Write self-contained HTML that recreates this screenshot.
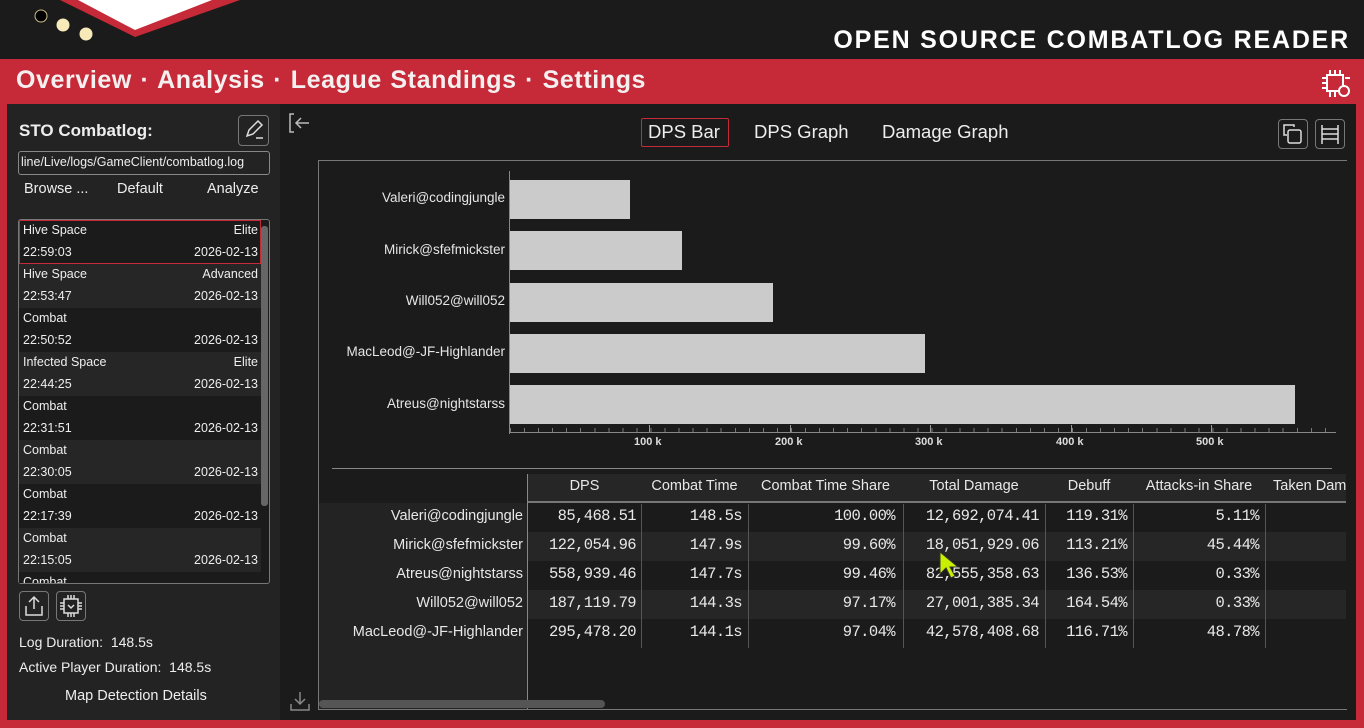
<!DOCTYPE html>
<html><head><meta charset="utf-8"><style>
*{margin:0;padding:0;box-sizing:border-box}
body{width:1364px;height:728px;background:#c62937;font-family:"Liberation Sans",sans-serif;color:#eee;position:relative;overflow:hidden}
.a{position:absolute}
.top{left:0;top:0;width:1364px;height:59px;background:#1b1b1b}
.title{right:14px;top:26px;font-size:25px;font-weight:bold;letter-spacing:1.8px;color:#fff}
.nav{left:16px;top:66px;font-size:25px;font-weight:bold;color:#f4f0f0;letter-spacing:0.6px;word-spacing:1px}
.left{left:7px;top:104px;width:273px;height:616px;background:#232323}
.main{left:280px;top:104px;width:1076px;height:616px;background:#1b1b1b}
.item{position:absolute;left:19px;width:242px;height:44px;font-size:12.5px}
.item span{position:absolute}
.btn{border:1px solid #777;border-radius:4px}
.cell{position:absolute;text-align:right;font-family:"Liberation Mono",monospace;font-size:15.5px;color:#e8e8e8;letter-spacing:-0.6px}
.hd{position:absolute;font-size:14.5px;color:#e8e8e8;text-align:center}
.rl{position:absolute;right:841px;font-size:14.5px;color:#e8e8e8;text-align:right}
.bl{position:absolute;right:859px;font-size:13.5px;color:#e6e6e6}
.bar{position:absolute;left:510px;background:#cbcbcb;height:39px}
.tk{position:absolute;top:436px;font-size:11px;font-weight:bold;color:#ddd}
</style></head><body>
<div class="a top"></div>
<svg class="a" style="left:0;top:0" width="260" height="59">
<polygon points="60,0 240,0 135,37" fill="#c62937"/>
<polygon points="78,0 212,0 135,30" fill="#fff"/>
<circle cx="41" cy="16" r="6" fill="#000" stroke="#cdbb88" stroke-width="1"/>
<circle cx="63" cy="25" r="6.5" fill="#f7e9b8"/>
<circle cx="86" cy="34" r="6.5" fill="#f7e9b8"/>
</svg>
<div class="a title">OPEN SOURCE COMBATLOG READER</div>
<div class="a nav">Overview · Analysis · League Standings · Settings</div>
<svg class="a" style="left:1320px;top:68px" width="32" height="32" fill="none" stroke="#fff" stroke-width="2"><rect x="7" y="7" width="16" height="16"/><path d="M10 2v5M15 2v5M20 2v5M2 10h5M2 15h5M2 20h5M25 10h5M10 23v6M15 23v6"/><circle cx="24" cy="23" r="5" fill="#c62937"/></svg>

<div class="a left"></div>
<div class="a main"></div>

<div class="a" style="left:19px;top:121px;font-size:17px;font-weight:bold">STO Combatlog:</div>
<div class="a btn" style="left:238px;top:115px;width:31px;height:31px"></div>
<svg class="a" style="left:243px;top:119px" width="22" height="22" fill="none" stroke="#ddd" stroke-width="1.5"><path d="M4 17l2-6 9-9 4 4-9 9z M13 19h7"/></svg>
<div class="a" style="left:18px;top:151px;width:252px;height:24px;border:1px solid #888;border-radius:3px;font-size:12.5px;padding:3px 0 0 2px;white-space:nowrap;overflow:hidden">line/Live/logs/GameClient/combatlog.log</div>
<div class="a" style="left:24px;top:181px;font-size:14.5px">Browse ...</div>
<div class="a" style="left:117px;top:181px;font-size:14.5px">Default</div>
<div class="a" style="left:207px;top:181px;font-size:14.5px">Analyze</div>
<div class="a" style="left:18px;top:219px;width:252px;height:365px;border:1px solid #777;border-radius:3px;overflow:hidden;background:#1b1b1b"></div>
<div class="a" style="left:261px;top:226px;width:7px;height:280px;background:#666;border-radius:3px"></div>
<div class="a btn" style="left:19px;top:591px;width:30px;height:30px"></div>
<svg class="a" style="left:24px;top:595px" width="20" height="22" fill="none" stroke="#ddd" stroke-width="1.5"><path d="M10 2v12M5 7l5-5 5 5M2 11v9h16v-9"/></svg>
<div class="a btn" style="left:56px;top:591px;width:30px;height:30px"></div>
<svg class="a" style="left:59px;top:594px" width="24" height="24" fill="none" stroke="#ddd" stroke-width="1.5"><rect x="5" y="5" width="14" height="14"/><path d="M9 1v4M12 1v4M15 1v4M9 19v4M12 19v4M15 19v4M1 9h4M1 12h4M1 15h4M19 9h4M19 12h4M19 15h4M9 11l3 3 3-3"/></svg>
<div class="a" style="left:19px;top:634px;font-size:14px">Log Duration:&nbsp; 148.5s</div>
<div class="a" style="left:19px;top:659px;font-size:14px">Active Player Duration:&nbsp; 148.5s</div>
<div class="a" style="left:65px;top:688px;font-size:14.5px">Map Detection Details</div>

<svg class="a" style="left:288px;top:112px" width="24" height="22" fill="none" stroke="#bbb" stroke-width="1.5"><path d="M6 2H2v18h4M9 11h12M13 6l-5 5 5 5"/></svg>
<svg class="a" style="left:288px;top:690px" width="24" height="22" fill="none" stroke="#888" stroke-width="1.5"><path d="M12 2v12M7 9l5 5 5-5M3 14v6h18v-6"/></svg>
<div class="a" style="left:641px;top:118px;width:88px;height:29px;border:1px solid #c62937;border-radius:2px"></div>
<div class="a" style="left:648px;top:121px;font-size:18.5px">DPS Bar</div>
<div class="a" style="left:754px;top:121px;font-size:18.5px">DPS Graph</div>
<div class="a" style="left:882px;top:121px;font-size:18.5px">Damage Graph</div>
<div class="a btn" style="left:1278px;top:119px;width:30px;height:30px"></div>
<svg class="a" style="left:1282px;top:123px" width="22" height="22" fill="none" stroke="#ddd" stroke-width="1.5"><path d="M12 4V2H2v10h3"/><rect x="6" y="7" width="13" height="13" rx="2"/></svg>
<div class="a btn" style="left:1315px;top:119px;width:30px;height:30px"></div>
<svg class="a" style="left:1319px;top:123px" width="22" height="22" fill="none" stroke="#ddd" stroke-width="1.5"><path d="M3 2v19M19 2v19M3 6h16M3 11h16M3 16h16"/></svg>

<div class="a" style="left:318px;top:160px;width:1029px;height:550px;border:1px solid #777;border-right:none"></div>
<div class="a" style="left:509px;top:171px;width:1px;height:263px;background:#888"></div>
<div class="a" style="left:509px;top:432px;width:827px;height:1px;background:#888"></div>
<div class="a" style="left:510px;top:428px;width:826px;height:4px;background:repeating-linear-gradient(90deg,#777 0 1px,transparent 1px 14.05px)"></div>
<div class="a" style="left:649px;top:425px;width:1px;height:7px;background:#999"></div>
<div class="a" style="left:790px;top:425px;width:1px;height:7px;background:#999"></div>
<div class="a" style="left:930px;top:425px;width:1px;height:7px;background:#999"></div>
<div class="a" style="left:1071px;top:425px;width:1px;height:7px;background:#999"></div>
<div class="a" style="left:1211px;top:425px;width:1px;height:7px;background:#999"></div>
<div class="tk" style="left:634px">100 k</div>
<div class="tk" style="left:775px">200 k</div>
<div class="tk" style="left:915px">300 k</div>
<div class="tk" style="left:1056px">400 k</div>
<div class="tk" style="left:1196px">500 k</div>
<div class="bar" style="top:180px;width:120px"></div>
<div class="bar" style="top:231px;width:172px"></div>
<div class="bar" style="top:283px;width:263px"></div>
<div class="bar" style="top:334px;width:415px"></div>
<div class="bar" style="top:385px;width:785px"></div>
<div class="bl" style="top:190px">Valeri@codingjungle</div>
<div class="bl" style="top:242px">Mirick@sfefmickster</div>
<div class="bl" style="top:293px">Will052@will052</div>
<div class="bl" style="top:344px">MacLeod@-JF-Highlander</div>
<div class="bl" style="top:396px">Atreus@nightstarss</div>

<div class="a" style="left:332px;top:468px;width:1000px;height:1px;background:#888"></div>
<div class="a" style="left:528px;top:474px;width:818px;height:29px;background:#262626;border-bottom:2px solid #777"></div>
<div class="a" style="left:319px;top:503px;width:208px;height:206px;background:#232323"></div>
<div class="a" style="left:527px;top:474px;width:1px;height:235px;background:#888"></div>
<div class="a" style="left:528px;top:532px;width:818px;height:29px;background:#262626"></div>
<div class="a" style="left:528px;top:590px;width:818px;height:29px;background:#262626"></div>
<div class="a" style="left:641px;top:504px;width:1px;height:144px;background:#555"></div>
<div class="a" style="left:748px;top:504px;width:1px;height:144px;background:#555"></div>
<div class="a" style="left:903px;top:504px;width:1px;height:144px;background:#555"></div>
<div class="a" style="left:1045px;top:504px;width:1px;height:144px;background:#555"></div>
<div class="a" style="left:1133px;top:504px;width:1px;height:144px;background:#555"></div>
<div class="a" style="left:1265px;top:504px;width:1px;height:144px;background:#555"></div>
<div class="hd" style="left:528px;width:113px;top:478px">DPS</div>
<div class="hd" style="left:641px;width:107px;top:478px">Combat Time</div>
<div class="hd" style="left:748px;width:155px;top:478px">Combat Time Share</div>
<div class="hd" style="left:903px;width:142px;top:478px">Total Damage</div>
<div class="hd" style="left:1045px;width:88px;top:478px">Debuff</div>
<div class="hd" style="left:1133px;width:132px;top:478px">Attacks-in Share</div>
<div class="hd" style="left:1273px;top:478px;white-space:nowrap;width:73px;overflow:hidden;text-align:left">Taken Damage</div>

<div class="rl" style="top:508px">Valeri@codingjungle</div>
<div class="rl" style="top:537px">Mirick@sfefmickster</div>
<div class="rl" style="top:566px">Atreus@nightstarss</div>
<div class="rl" style="top:595px">Will052@will052</div>
<div class="rl" style="top:624px">MacLeod@-JF-Highlander</div>

<div style="position:absolute;left:0;top:507px">
<div class="cell" style="left:528px;width:108px;top:0">85,468.51</div><div class="cell" style="left:641px;width:101px;top:0">148.5s</div><div class="cell" style="left:748px;width:147px;top:0">100.00%</div><div class="cell" style="left:903px;width:136px;top:0">12,692,074.41</div><div class="cell" style="left:1045px;width:82px;top:0">119.31%</div><div class="cell" style="left:1133px;width:126px;top:0">5.11%</div>
<div class="cell" style="left:528px;width:108px;top:29px">122,054.96</div><div class="cell" style="left:641px;width:101px;top:29px">147.9s</div><div class="cell" style="left:748px;width:147px;top:29px">99.60%</div><div class="cell" style="left:903px;width:136px;top:29px">18,051,929.06</div><div class="cell" style="left:1045px;width:82px;top:29px">113.21%</div><div class="cell" style="left:1133px;width:126px;top:29px">45.44%</div>
<div class="cell" style="left:528px;width:108px;top:58px">558,939.46</div><div class="cell" style="left:641px;width:101px;top:58px">147.7s</div><div class="cell" style="left:748px;width:147px;top:58px">99.46%</div><div class="cell" style="left:903px;width:136px;top:58px">82,555,358.63</div><div class="cell" style="left:1045px;width:82px;top:58px">136.53%</div><div class="cell" style="left:1133px;width:126px;top:58px">0.33%</div>
<div class="cell" style="left:528px;width:108px;top:87px">187,119.79</div><div class="cell" style="left:641px;width:101px;top:87px">144.3s</div><div class="cell" style="left:748px;width:147px;top:87px">97.17%</div><div class="cell" style="left:903px;width:136px;top:87px">27,001,385.34</div><div class="cell" style="left:1045px;width:82px;top:87px">164.54%</div><div class="cell" style="left:1133px;width:126px;top:87px">0.33%</div>
<div class="cell" style="left:528px;width:108px;top:116px">295,478.20</div><div class="cell" style="left:641px;width:101px;top:116px">144.1s</div><div class="cell" style="left:748px;width:147px;top:116px">97.04%</div><div class="cell" style="left:903px;width:136px;top:116px">42,578,408.68</div><div class="cell" style="left:1045px;width:82px;top:116px">116.71%</div><div class="cell" style="left:1133px;width:126px;top:116px">48.78%</div>
</div>
<div class="a" style="left:319px;top:700px;width:286px;height:8px;background:#555;border-radius:4px"></div>
<svg class="a" style="left:938px;top:550px" width="24" height="30"><polygon points="2,2 2,24 8,18 13,28 17,26 12,17 20,17" fill="#c8f000" stroke="#333" stroke-width="1"/></svg>

<div class="item" style="top:220px;background:#1b1b1b"><span style="left:4px;top:3px">Hive Space</span><span style="right:3px;top:3px">Elite</span><span style="left:4px;top:25px">22:59:03</span><span style="right:3px;top:25px">2026-02-13</span></div>
<div class="item" style="top:264px;background:#262626"><span style="left:4px;top:3px">Hive Space</span><span style="right:3px;top:3px">Advanced</span><span style="left:4px;top:25px">22:53:47</span><span style="right:3px;top:25px">2026-02-13</span></div>
<div class="item" style="top:308px;background:#1b1b1b"><span style="left:4px;top:3px">Combat</span><span style="left:4px;top:25px">22:50:52</span><span style="right:3px;top:25px">2026-02-13</span></div>
<div class="item" style="top:352px;background:#262626"><span style="left:4px;top:3px">Infected Space</span><span style="right:3px;top:3px">Elite</span><span style="left:4px;top:25px">22:44:25</span><span style="right:3px;top:25px">2026-02-13</span></div>
<div class="item" style="top:396px;background:#1b1b1b"><span style="left:4px;top:3px">Combat</span><span style="left:4px;top:25px">22:31:51</span><span style="right:3px;top:25px">2026-02-13</span></div>
<div class="item" style="top:440px;background:#262626"><span style="left:4px;top:3px">Combat</span><span style="left:4px;top:25px">22:30:05</span><span style="right:3px;top:25px">2026-02-13</span></div>
<div class="item" style="top:484px;background:#1b1b1b"><span style="left:4px;top:3px">Combat</span><span style="left:4px;top:25px">22:17:39</span><span style="right:3px;top:25px">2026-02-13</span></div>
<div class="item" style="top:528px;background:#262626"><span style="left:4px;top:3px">Combat</span><span style="left:4px;top:25px">22:15:05</span><span style="right:3px;top:25px">2026-02-13</span></div>
<div class="item" style="top:572px;height:11px;overflow:hidden;background:#1b1b1b"><span style="left:4px;top:3px">Combat</span></div>
<div class="a" style="left:19px;top:220px;width:242px;height:44px;border:1px solid #c62937"></div>
</body></html>
